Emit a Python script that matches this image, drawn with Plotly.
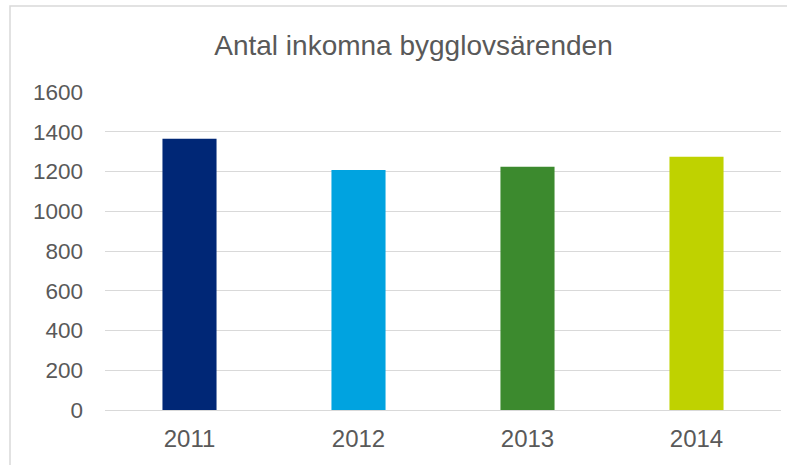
import plotly.graph_objects as go

years = ["2011", "2012", "2013", "2014"]
values = [1365, 1208, 1224, 1274]
colors = ["#002776", "#00A3E0", "#3C8A2E", "#BFD200"]
y_ticks = [0, 200, 400, 600, 800, 1000, 1200, 1400, 1600]

W, H = 787, 465
ml, mr, mt, mb = 105, 6, 92, 55

fig = go.Figure(go.Bar(x=years, y=values, marker=dict(color=colors, line=dict(width=0)), width=0.32))

pw = W - ml - mr
ph = H - mt - mb
fig.add_shape(type="rect", xref="paper", yref="paper",
              x0=(10 - ml) / pw, x1=1.2, y0=-0.5, y1=(H - mb - 6) / ph,
              line=dict(color="#D9D9D9", width=1.5), fillcolor="rgba(0,0,0,0)", layer="below")

fig.update_layout(
    width=W, height=H,
    margin=dict(l=ml, r=mr, t=mt, b=mb),
    paper_bgcolor="white", plot_bgcolor="white",
    font=dict(family="Liberation Sans, Arial, sans-serif", color="#595959"),
    title=dict(text="Antal inkomna bygglovsärenden", x=(413.5) / W, xanchor="center",
               y=1 - 45 / H, yanchor="middle", font=dict(size=28, color="#595959")),
    showlegend=False,
    xaxis=dict(showgrid=False, showline=False, ticks="", tickfont=dict(size=24, color="#595959"),
               ticklabelstandoff=12),
    yaxis=dict(range=[0, 1600], tickvals=y_ticks, showgrid=True, gridcolor="#D9D9D9", gridwidth=1,
               zeroline=True, zerolinecolor="#D9D9D9", zerolinewidth=1, showline=False,
               ticks="", tickfont=dict(size=22.5, color="#595959"), ticklabelstandoff=21),
)

fig.write_html("out.html", config={"displayModeBar": False},
               post_script="document.body.style.margin='0';document.body.style.overflow='hidden';")
